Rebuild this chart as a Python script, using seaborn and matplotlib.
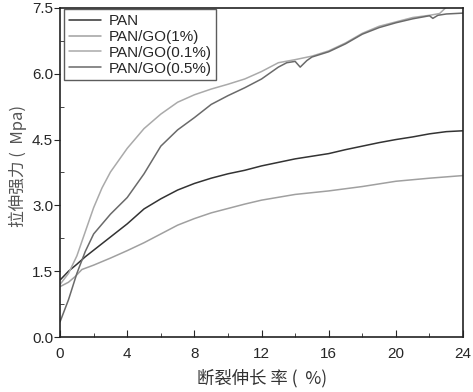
import matplotlib
matplotlib.use("Agg")
import matplotlib.pyplot as plt
import pandas as pd
import seaborn as sns
from matplotlib.ticker import MultipleLocator

# strain (%) / strength (Mpa)
pan_x = [0, 0.5, 1, 1.5, 2, 3, 4, 5, 6, 7, 8, 9, 10, 11, 12, 13, 14, 15, 16, 17, 18, 19, 20, 21, 22, 23, 24]
pan_y = [1.30, 1.50, 1.66, 1.83, 1.98, 2.28, 2.58, 2.92, 3.15, 3.35, 3.50, 3.62, 3.72, 3.80, 3.90, 3.98,
         4.06, 4.12, 4.18, 4.27, 4.35, 4.43, 4.50, 4.56, 4.63, 4.68, 4.70]

go1_x = [0, 0.5, 0.9, 1.3, 2, 3, 4, 5, 6, 7, 8, 9, 10, 11, 12, 14, 16, 18, 20, 22, 24]
go1_y = [1.15, 1.25, 1.38, 1.54, 1.64, 1.80, 1.97, 2.15, 2.35, 2.55, 2.70, 2.83, 2.93, 3.03, 3.12,
         3.25, 3.33, 3.43, 3.55, 3.62, 3.68]

go01_x = [0, 0.5, 1, 1.5, 2, 2.5, 3, 4, 5, 6, 7, 8, 9, 10, 11, 12, 13, 14, 15, 16, 17, 18, 19, 20,
          21, 22, 22.6, 23.1]
go01_y = [1.20, 1.45, 1.85, 2.40, 2.95, 3.40, 3.76, 4.30, 4.75, 5.08, 5.35, 5.52, 5.65, 5.76, 5.88,
          6.05, 6.25, 6.32, 6.40, 6.52, 6.70, 6.92, 7.08, 7.18, 7.28, 7.33, 7.37, 7.55]

go05_x = [0, 0.5, 1, 1.5, 2, 3, 4, 5, 6, 7, 8, 9, 10, 11, 12, 13, 13.5, 14, 14.3, 14.7, 15, 16, 17,
          18, 19, 20, 21, 22, 22.2, 22.5, 23, 24]
go05_y = [0.35, 0.85, 1.45, 1.95, 2.35, 2.80, 3.18, 3.72, 4.35, 4.72, 5.00, 5.30, 5.50, 5.68, 5.88,
          6.15, 6.25, 6.28, 6.15, 6.30, 6.38, 6.50, 6.68, 6.90, 7.05, 7.16, 7.25, 7.32, 7.26, 7.33,
          7.36, 7.38]

labels = ["PAN", "PAN/GO(1%)", "PAN/GO(0.1%)", "PAN/GO(0.5%)"]
colors = ["#333333", "#a0a0a0", "#aaaaaa", "#6a6a6a"]

frames = []
for name, xs, ys in zip(labels, [pan_x, go1_x, go01_x, go05_x], [pan_y, go1_y, go01_y, go05_y]):
    frames.append(pd.DataFrame({"x": xs, "y": ys, "sample": name}))
df = pd.concat(frames, ignore_index=True)

sns.set_style("ticks")
plt.rcParams["font.family"] = ["Liberation Sans", "Noto Sans CJK SC", "DejaVu Sans"]

fig = plt.figure(figsize=(4.73, 3.92), dpi=100)
ax = fig.add_axes([0.127, 0.14, 0.852, 0.84])

sns.lineplot(data=df, x="x", y="y", hue="sample", hue_order=labels,
             palette=dict(zip(labels, colors)), linewidth=1.1, sort=False,
             estimator=None, ax=ax)

ax.set_xlim(0, 24)
ax.set_ylim(0, 7.5)
ax.xaxis.set_major_locator(MultipleLocator(4))
ax.xaxis.set_minor_locator(MultipleLocator(2))
ax.yaxis.set_major_locator(MultipleLocator(1.5))
ax.yaxis.set_minor_locator(MultipleLocator(0.75))
ax.yaxis.set_major_formatter(matplotlib.ticker.FormatStrFormatter("%.1f"))
ax.tick_params(axis="x", which="both", direction="in", labelsize=11, pad=7)
ax.tick_params(axis="x", which="major", length=5)
ax.tick_params(axis="x", which="minor", length=3)
ax.tick_params(axis="y", which="major", direction="out", length=4, labelsize=11, pad=1)
ax.tick_params(axis="y", which="minor", direction="in", length=3)
for s in ax.spines.values():
    s.set_linewidth(1.2)
    s.set_color("#222222")

cjk = ["Noto Sans CJK SC", "DejaVu Sans"]
ax.set_xlabel("断裂伸长 率 (  %)", fontsize=12.5, family=cjk, color="#333333", labelpad=6)
ax.set_ylabel("拉伸强力 (  Mpa)", fontsize=12, family=cjk, color="#555555")
ax.yaxis.set_label_coords(-0.082, 0.52)

leg = ax.legend(loc="upper left", bbox_to_anchor=(0.01, 0.995), frameon=True, fancybox=False,
                fontsize=11, handlelength=2.1, borderpad=0.3, labelspacing=0.12,
                handletextpad=0.5, borderaxespad=0.0)
leg.get_frame().set_edgecolor("#333333")
leg.get_frame().set_linewidth(1.0)
leg.set_title(None)

fig.savefig("out.png", dpi=100)
